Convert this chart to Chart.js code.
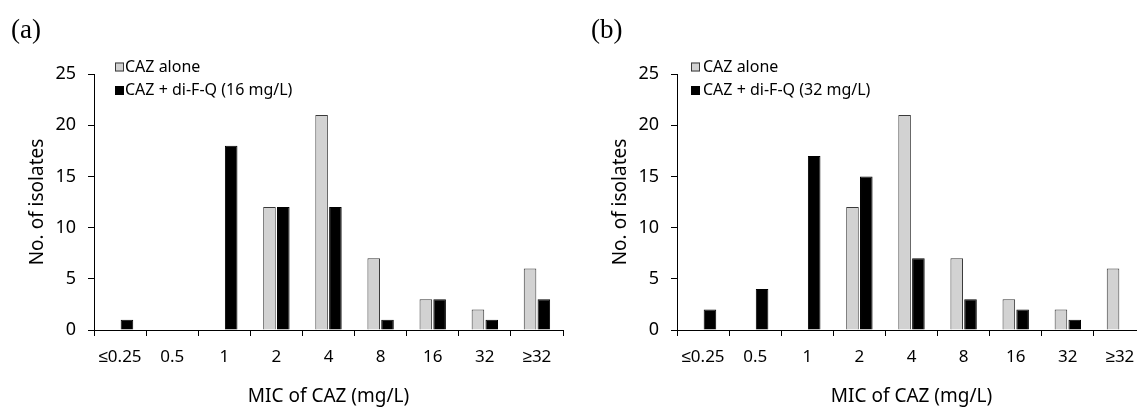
<!DOCTYPE html>
<html>
<head>
<meta charset="utf-8">
<script src="https://cdn.jsdelivr.net/npm/chart.js@4"></script>
<style>
  body { margin: 0; background: #fff; width: 1137px; height: 408px; position: relative; overflow: hidden; }
  canvas { position: absolute; top: 0; }
  .tag { position: absolute; top: 16px; font-family: "Liberation Serif", serif; font-size: 27px; line-height: 1; color: #000; }
</style>
</head>
<body>
<canvas id="graficoA" width="580" height="408" style="left:0"></canvas>
<canvas id="graficoB" width="580" height="408" style="left:583px"></canvas>
<div class="tag" style="left:11px">(a)</div>
<div class="tag" style="left:591px">(b)</div>
<script>
// MIC categories (mg/L)
const categorias = ["≤0.25", "0.5", "1", "2", "4", "8", "16", "32", "≥32"];

// number of isolates per MIC
const cazSozinho = [0, 0, 0, 12, 21, 7, 3, 2, 6];
const cazDiFQ16 = [1, 0, 18, 12, 12, 1, 3, 1, 3];
const cazDiFQ32 = [2, 4, 17, 15, 7, 3, 2, 1, 0];

const rotulosSeries = ["CAZ alone", "CAZ + di-F-Q (16 mg/L)", "CAZ + di-F-Q (32 mg/L)"];

Chart.defaults.font.family = '"Noto Sans", sans-serif';
Chart.defaults.color = "#000";

// legend drawn by hand, two rows stacked top-left
const legendaPlugin = {
  id: "legenda",
  afterDraw(chart, args, opts) {
    const ctx = chart.ctx;
    ctx.save();
    ctx.font = '16px "Noto Sans", sans-serif';
    ctx.textBaseline = "middle";
    chart.data.datasets.forEach((ds, i) => {
      const y = opts.y + i * 23.5;
      ctx.fillStyle = ds.backgroundColor;
      ctx.fillRect(opts.x, y - 4.5, 9, 9);
      ctx.strokeStyle = ds.borderColor;
      ctx.lineWidth = 1;
      ctx.strokeRect(opts.x + 0.5, y - 4, 8, 8);
      ctx.fillStyle = "#000";
      ctx.fillText(ds.label, opts.x + opts.gap, y);
    });
    ctx.restore();
  }
};

function renderizarGrafico(id, dadosPreto, rotuloPreto, legendaX, legendaGap) {
  const ctx = document.getElementById(id).getContext("2d");
  return new Chart(ctx, {
    type: "bar",
    data: {
      labels: categorias,
      datasets: [{
        label: rotulosSeries[0],
        data: cazSozinho,
        backgroundColor: "#d2d2d2",
        borderColor: "#3a3a3a",
        borderWidth: 1,
        borderSkipped: "bottom"
      }, {
        label: rotuloPreto,
        data: dadosPreto,
        backgroundColor: "#000000",
        borderColor: "#000000",
        borderWidth: 1,
        borderSkipped: "bottom"
      }]
    },
    options: {
      responsive: false,
      animation: false,
      devicePixelRatio: 1,
      layout: { padding: { left: 26, top: 74, right: 17, bottom: 0 } },
      datasets: { bar: { categoryPercentage: 0.53, barPercentage: 0.91 } },
      plugins: {
        legend: { display: false },
        tooltip: { enabled: false },
        legenda: { x: legendaX, y: 67, gap: legendaGap }
      },
      scales: {
        x: {
          ticks: { color: "#000", font: { size: 17 }, padding: 11, maxRotation: 0, autoSkip: false },
          grid: { drawOnChartArea: false, drawTicks: true, tickLength: 6, color: "#000", offset: true },
          border: { display: true, color: "#000", width: 1 },
          title: { display: true, text: "MIC of CAZ (mg/L)", color: "#000", font: { size: 19 }, padding: 0 },
          afterFit(s) { s.height = 78; }
        },
        y: {
          min: 0,
          max: 25,
          ticks: { stepSize: 5, color: "#000", font: { size: 18 }, padding: 12 },
          grid: { drawOnChartArea: false, drawTicks: true, tickLength: 6, color: "#000" },
          border: { display: true, color: "#000", width: 1 },
          title: { display: true, text: "No. of isolates", color: "#000", font: { size: 19 }, padding: 0 },
          afterFit(s) { s.width = 68; }
        }
      }
    },
    plugins: [legendaPlugin]
  });
}

renderizarGrafico("graficoA", cazDiFQ16, rotulosSeries[1], 115, 10);
renderizarGrafico("graficoB", cazDiFQ32, rotulosSeries[2], 108, 12);
</script>
</body>
</html>
